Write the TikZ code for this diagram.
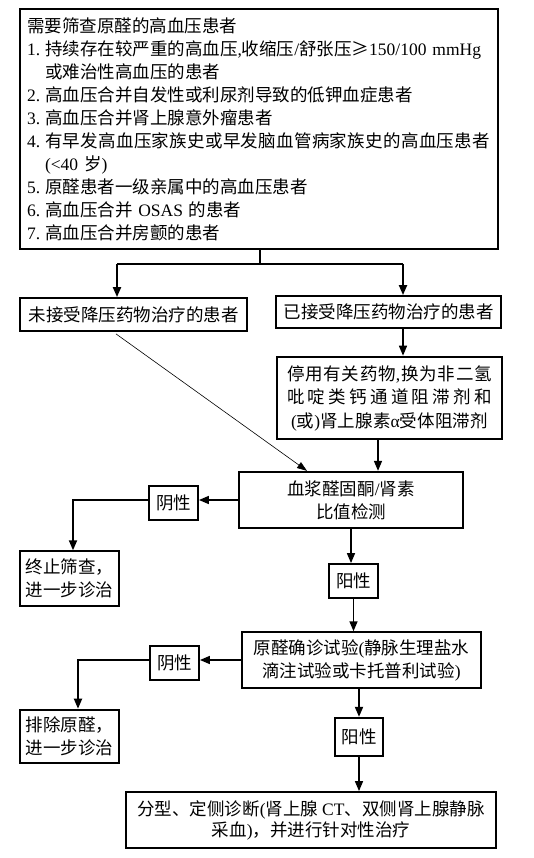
\documentclass[tikz,border=0pt]{standalone}
\usepackage{fontspec}
\setmainfont{Liberation Serif}
\newfontfamily\cjk{Noto Sans CJK SC}
\usetikzlibrary{arrows.meta}
\newcommand\la[1]{{\rmfamily #1}}
\newcommand\spread[2]{\makebox[#1][s]{\spaceskip=0pt plus 1fil\relax #2}}
\newcommand\num[1]{\makebox[18pt][l]{\la{#1}}}
\begin{document}
\begin{tikzpicture}[x=1pt,y=-1pt,font=\fontsize{17.5}{23}\cjk,
  box/.style={draw, line width=1.8pt, inner sep=0pt, align=center},
  tbox/.style={box, line width=2.6pt},
  ln/.style={line width=1.5pt},
  arr/.style={line width=1.5pt, -{Triangle[length=10pt,width=8pt]}},
  thinarr/.style={line width=0.6pt, -{Triangle[length=10pt,width=7pt]}}]
\fill[white] (0,0) rectangle (534,858);
\useasboundingbox (0,0) rectangle (534,858);

\node[box, minimum width=478pt, minimum height=240pt, text width=464pt,
      inner xsep=7pt, align=left] (top) at (259,129) {%
需要筛查原醛的高血压患者\\
\num{1.}持续存在较严重的高血压\la{,}收缩压\la{/}舒张压≥\la{150/100 mmHg}\\
\hspace*{18pt}或难治性高血压的患者\\
\num{2.}高血压合并自发性或利尿剂导致的低钾血症患者\\
\num{3.}高血压合并肾上腺意外瘤患者\\
\num{4.}\spread{445pt}{有 早 发 高 血 压 家 族 史 或 早 发 脑 血 管 病 家 族 史 的 高 血 压 患 者}\\
\hspace*{18pt}\la{(<40 }岁\la{)}\\
\num{5.}原醛患者一级亲属中的高血压患者\\
\num{6.}高血压合并 \la{OSAS} 的患者\\
\num{7.}高血压合并房颤的患者};

\node[box, minimum width=227pt, minimum height=33pt] (untreated) at (133.5,314.5) {未接受降压药物治疗的患者};
\node[box, minimum width=225pt, minimum height=32pt] (treated) at (388.5,312) {已接受降压药物治疗的患者};
\node[tbox, minimum width=225pt, minimum height=82pt, font=\fontsize{17.5}{23.5}\cjk] (stopdrug) at (389.5,398) {%
\spread{205pt}{停 用 有 关 药 物\la{,} 换 为 非 二 氢}\\
\spread{205pt}{吡 啶 类 钙 通 道 阻 滞 剂 和}\\
\spread{197pt}{\la{(}或\la{)}肾 上 腺 素 \la{α} 受 体 阻 滞 剂}};
\node[tbox, line width=2.3pt, minimum width=224pt, minimum height=56pt] (rar) at (351,500) {血浆醛固酮\la{/}肾素\\比值检测};
\node[box, minimum width=49pt, minimum height=34pt] (neg1) at (173.5,503) {阴性};
\node[box, line width=1.4pt, minimum width=99pt, minimum height=55pt, text width=88pt, inner xsep=5.5pt, align=left] (stop1) at (69.5,578.5) {终止筛查，\\进一步诊治};
\node[box, minimum width=49pt, minimum height=34pt] (pos1) at (353.5,581) {阳性};
\node[box, line width=1.5pt, minimum width=239pt, minimum height=56pt] (confirm) at (361.5,660) {原醛确诊试验\la{(}静脉生理盐水\\滴注试验或卡托普利试验\la{)}};
\node[box, minimum width=49pt, minimum height=34pt] (neg2) at (174.5,663) {阴性};
\node[tbox, minimum width=99pt, minimum height=53pt, text width=88pt, inner xsep=5.5pt, align=left] (exclude) at (69.5,736.5) {排除原醛，\\进一步诊治};
\node[tbox, line width=2.3pt, minimum width=48pt, minimum height=38pt] (pos2) at (359,737) {阳性};
\node[box, minimum width=370pt, minimum height=56pt, font=\fontsize{17.5}{21}\cjk] (final) at (311,820) {分型、定侧诊断\la{(}肾上腺 \la{CT}、双侧肾上腺静脉\\采血\la{)}，并进行针对性治疗};

\coordinate (split) at (260,264);
\coordinate (jl) at (117,264);
\coordinate (jr) at (403,264);
\coordinate (c1) at (378,0);
\coordinate (c2) at (73,0);
\coordinate (c3) at (78,0);

\draw[ln, line width=2pt] (top.south -| split) -- (split);
\draw[ln, line width=2pt] (jl) -- (jr);
\draw[arr, line width=2pt] (jl) -- (jl |- untreated.north);
\draw[arr, line width=2pt] (jr) -- (jr |- treated.north);
\draw[arr] (treated.south -| jr) -- (jr |- stopdrug.north);
\draw[thinarr] ([xshift=-17.5pt,yshift=-2pt]untreated.south) -- ([xshift=-44pt]rar.north);
\draw[arr] (stopdrug.south -| c1) -- (rar.north -| c1);
\draw[arr] (rar.west) -- (neg1.east |- rar.west);
\draw[arr, line width=1.8pt] (neg1.west |- rar.west) -- (c2 |- rar.west) -- (c2 |- stop1.north);
\draw[arr] (rar.south) -- (rar.south |- pos1.north);
\draw[arr] (pos1.south) -- (pos1.south |- confirm.north);
\draw[arr] (confirm.west) -- (neg2.east |- confirm.west);
\draw[arr, line width=1.8pt] (neg2.west |- confirm.west) -- (c3 |- confirm.west) -- (c3 |- exclude.north);
\draw[arr, line width=1.8pt] (confirm.south -| pos2.north) -- (pos2.north);
\draw[arr] (pos2.south) -- (pos2.south |- final.north);
\end{tikzpicture}
\end{document}
